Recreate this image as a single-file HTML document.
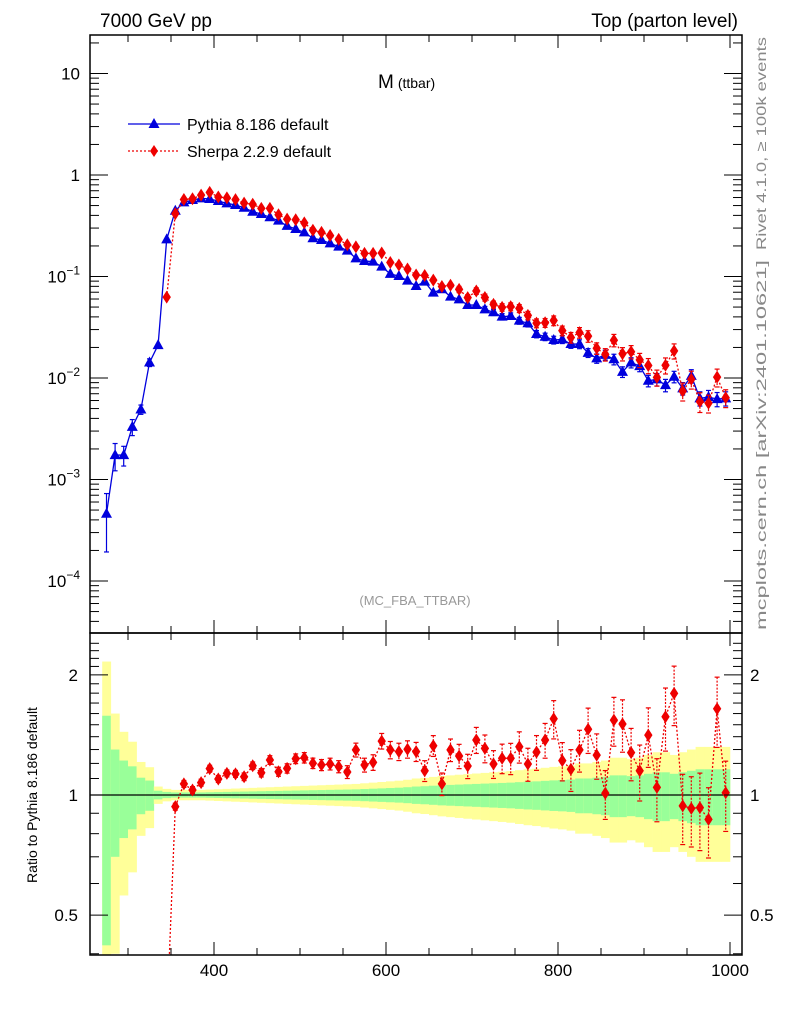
<!DOCTYPE html>
<html><head><meta charset="utf-8">
<style>
html,body{margin:0;padding:0;background:#fff;}
svg{display:block;font-family:"Liberation Sans",Arial,sans-serif;}
</style></head>
<body>
<svg id="chart" width="786" height="1024" viewBox="0 0 786 1024" xmlns="http://www.w3.org/2000/svg">
  <defs>
    <clipPath id="clipMain"><rect x="90" y="35" width="652" height="598"/></clipPath>
    <clipPath id="clipRatio"><rect x="90" y="633" width="652" height="322"/></clipPath>
  </defs>
  <text x="100" y="27" font-size="19">7000 GeV pp</text>
  <text x="738" y="27" font-size="19" text-anchor="end">Top (parton level)</text>
  <text x="378" y="88" font-size="19">M<tspan font-size="14" dx="4">(ttbar)</tspan></text>
  <text x="415" y="605" font-size="13" fill="#999" text-anchor="middle">(MC_FBA_TTBAR)</text>
  <text transform="translate(766,250) rotate(-90)" font-size="14" fill="#888" textLength="213" lengthAdjust="spacingAndGlyphs">Rivet 4.1.0, ≥ 100k events</text>
  <text transform="translate(766,630) rotate(-90)" font-size="14" fill="#888" textLength="370" lengthAdjust="spacingAndGlyphs">mcplots.cern.ch [arXiv:2401.10621]</text>
  <text transform="translate(37,795) rotate(-90)" font-size="14" text-anchor="middle">Ratio to Pythia 8.186 default</text>
  <g id="gRatioBand" clip-path="url(#clipRatio)"></g>
  <g id="gMain" clip-path="url(#clipMain)"></g>
  <g id="gRatio" clip-path="url(#clipRatio)"></g>
  <g id="gAxes"></g>
  <g>
    <g>
      <line x1="128" y1="124" x2="180" y2="124" stroke="#0000dd" stroke-width="1.3"/>
      <polygon points="154,118 159.5,128 148.5,128" fill="#0000dd"/>
      <text x="187" y="130" font-size="16">Pythia 8.186 default</text>
    </g>
    <g>
      <line x1="128" y1="151" x2="180" y2="151" stroke="#ee0000" stroke-width="1.3" stroke-dasharray="2,2"/>
      <polygon points="154,145 158,151 154,157 150,151" fill="#ee0000"/>
      <text x="187" y="157" font-size="16">Sherpa 2.2.9 default</text>
    </g>
  </g>
</svg>
<script>
const binCenters = [275,285,295,305,315,325,335,345,355,365,375,385,395,405,415,425,435,445,455,465,475,485,495,505,515,525,535,545,555,565,575,585,595,605,615,625,635,645,655,665,675,685,695,705,715,725,735,745,755,765,775,785,795,805,815,825,835,845,855,865,875,885,895,905,915,925,935,945,955,965,975,985,995];
const pythiaValues = [4.6e-4,1.74e-3,1.74e-3,3.3e-3,4.9e-3,0.0142,0.0211,0.232,0.445,0.538,0.567,0.589,0.580,0.554,0.526,0.506,0.476,0.435,0.413,0.383,0.355,0.315,0.294,0.272,0.238,0.229,0.212,0.197,0.180,0.151,0.142,0.140,0.125,0.106,0.101,0.091,0.0806,0.0889,0.0693,0.0748,0.0633,0.0596,0.0524,0.0524,0.0475,0.0444,0.0402,0.0408,0.0367,0.0346,0.0271,0.0255,0.0237,0.0240,0.0216,0.0216,0.0177,0.0156,0.0169,0.0153,0.0115,0.0142,0.0131,0.0094,0.0097,0.0085,0.0103,0.0079,0.0105,0.0063,0.0065,0.0062,0.0063];
const pythiaRelErr = [0.58,0.30,0.22,0.18,0.105,0.087,0.025,0.018,0.015,0.015,0.015,0.015,0.016,0.017,0.018,0.019,0.020,0.021,0.022,0.023,0.024,0.025,0.026,0.027,0.028,0.029,0.030,0.031,0.032,0.033,0.035,0.037,0.039,0.041,0.043,0.046,0.05,0.052,0.055,0.058,0.06,0.062,0.064,0.066,0.068,0.07,0.072,0.074,0.077,0.08,0.082,0.085,0.088,0.09,0.093,0.1,0.1,0.105,0.11,0.12,0.12,0.115,0.12,0.13,0.14,0.14,0.13,0.14,0.15,0.16,0.16,0.16,0.16];
const sherpaRatio = [null,null,null,null,null,null,null,0.27,0.935,1.066,1.029,1.074,1.164,1.097,1.133,1.13,1.111,1.184,1.137,1.224,1.144,1.166,1.233,1.240,1.201,1.189,1.196,1.178,1.142,1.297,1.189,1.207,1.365,1.297,1.284,1.302,1.284,1.150,1.329,1.066,1.297,1.252,1.182,1.374,1.309,1.196,1.236,1.236,1.321,1.196,1.281,1.374,1.553,1.219,1.160,1.297,1.461,1.259,1.010,1.541,1.506,1.277,1.150,1.413,1.045,1.571,1.798,0.939,0.926,0.93,0.869,1.645,1.013];
const sherpaRelErr = [null,null,null,null,null,null,null,0.05,0.02,0.02,0.02,0.02,0.02,0.02,0.02,0.02,0.022,0.022,0.024,0.025,0.026,0.027,0.028,0.03,0.03,0.032,0.034,0.035,0.037,0.04,0.04,0.045,0.045,0.05,0.05,0.05,0.055,0.06,0.06,0.065,0.065,0.07,0.07,0.075,0.08,0.08,0.085,0.09,0.09,0.095,0.1,0.1,0.11,0.11,0.12,0.12,0.13,0.13,0.14,0.14,0.15,0.15,0.16,0.17,0.18,0.18,0.17,0.2,0.2,0.22,0.2,0.2,0.2];
const xTickLabels = [400,600,800,1000];
const mainYTickExps = [1,0,-1,-2,-3,-4];
const ratioTickLabels = [2,1,0.5];

const NS = "http://www.w3.org/2000/svg";
const X = v => 214 + (v - 400) * 0.86;
const Ym = v => 175 - 101.5 * Math.log10(v);
const Yr = r => 795 - 399 * Math.log10(r);
function mk(tag, attrs, parent) {
  const e = document.createElementNS(NS, tag);
  for (const k in attrs) e.setAttribute(k, attrs[k]);
  parent.appendChild(e);
  return e;
}
const gMain = document.getElementById('gMain');
const gRatio = document.getElementById('gRatio');
const gBand = document.getElementById('gRatioBand');
const gAxes = document.getElementById('gAxes');
const BLUE = '#0000dd', RED = '#ee0000';

function tri(g, cx, cy) {
  const p = mk('polygon', {points: `${cx},${cy-6} ${cx+5.5},${cy+4} ${cx-5.5},${cy+4}`, fill: BLUE}, g);
  
  
}
function dia(g, cx, cy, name) {
  const p = mk('polygon', {points: `${cx},${cy-6.5} ${cx+4.2},${cy} ${cx},${cy+6.5} ${cx-4.2},${cy}`, fill: RED}, g);
  
  
}
function errbar(g, x, y1, y2, col, dash) {
  const a = {x1: x, y1: y1, x2: x, y2: y2, stroke: col, 'stroke-width': 1.2};
  if (dash) a['stroke-dasharray'] = '2,1.5';
  mk('line', a, g);
  if (Math.abs(y2 - y1) > 6) {
    mk('line', {x1: x-2.5, y1: y1, x2: x+2.5, y2: y1, stroke: col, 'stroke-width': 1.2}, g);
    mk('line', {x1: x-2.5, y1: y2, x2: x+2.5, y2: y2, stroke: col, 'stroke-width': 1.2}, g);
  }
}

binCenters.forEach((c, i) => {
  const e = pythiaRelErr[i];
  const x0 = X(c - 5), w = X(c + 5) - x0;
  const yTop = Yr(1 + 2*e), yBot = (1 - 2*e) > 0.01 ? Yr(1 - 2*e) : 1000;
  const r1 = mk('rect', {x: x0, y: yTop, width: w + 0.3, height: yBot - yTop, fill: '#ffff99'}, gBand);
  
  
  const gTop = Yr(1 + e), gBot = (1 - e) > 0.01 ? Yr(1 - e) : 1000;
  const r2 = mk('rect', {x: x0, y: gTop, width: w + 0.3, height: gBot - gTop, fill: '#99ff99'}, gBand);
  
  
});
const one = mk('line', {x1: 90, y1: Yr(1), x2: 742, y2: Yr(1), stroke: '#000', 'stroke-width': 1.3}, gRatio);



let pts = binCenters.map((c, i) => `${X(c)},${Ym(pythiaValues[i])}`).join(' ');
const pl = mk('polyline', {points: pts, fill: 'none', stroke: BLUE, 'stroke-width': 1.3}, gMain);


binCenters.forEach((c, i) => {
  const v = pythiaValues[i], e = pythiaRelErr[i];
  errbar(gMain, X(c), Ym(v*(1+e)), Ym(v*Math.max(1-e, 0.01)), BLUE, false);
});
binCenters.forEach((c, i) => tri(gMain, X(c), Ym(pythiaValues[i])));

const sIdx = binCenters.map((c, i) => i).filter(i => sherpaRatio[i] !== null);
pts = sIdx.map(i => `${X(binCenters[i])},${Ym(pythiaValues[i]*sherpaRatio[i])}`).join(' ');
const sl = mk('polyline', {points: pts, fill: 'none', stroke: RED, 'stroke-width': 1.3, 'stroke-dasharray': '2,2'}, gMain);


sIdx.forEach(i => {
  const v = pythiaValues[i]*sherpaRatio[i], e = sherpaRelErr[i];
  errbar(gMain, X(binCenters[i]), Ym(v*(1+e)), Ym(v*(1-e)), RED, true);
  dia(gMain, X(binCenters[i]), Ym(v), 'sherpa-point');
});

pts = sIdx.map(i => `${X(binCenters[i])},${Yr(sherpaRatio[i])}`).join(' ');
const rl = mk('polyline', {points: pts, fill: 'none', stroke: RED, 'stroke-width': 1.3, 'stroke-dasharray': '2,2'}, gRatio);


sIdx.forEach(i => {
  const r = sherpaRatio[i], e = sherpaRelErr[i]*r;
  errbar(gRatio, X(binCenters[i]), Yr(r + e), Yr(r - e), RED, true);
  dia(gRatio, X(binCenters[i]), Yr(r), 'sherpa-ratio-point');
});

const f1 = mk('rect', {x: 90, y: 35, width: 652, height: 598, fill: 'none', stroke: '#000', 'stroke-width': 1.5}, gAxes);


const f2 = mk('rect', {x: 90, y: 633, width: 652, height: 322, fill: 'none', stroke: '#000', 'stroke-width': 1.5}, gAxes);



for (let v = 300; v <= 1000; v += 50) {
  const x = X(v), major = (v % 200 === 0);
  const L = major ? 13 : 7;
  [[633, -1], [955, -1], [35, 1], [633, 1]].forEach(([y, d]) => {
    mk('line', {x1: x, y1: y, x2: x, y2: y + d*L, stroke: '#000', 'stroke-width': 1}, gAxes);
  });
}
xTickLabels.forEach(v => {
  const t = mk('text', {x: X(v), y: 976, 'font-size': 17, 'text-anchor': 'middle'}, gAxes);
  t.textContent = v;
  
  
});

for (let ex = -5; ex <= 1; ex++) {
  for (let m = 1; m <= 9; m++) {
    const y = Ym(m * Math.pow(10, ex));
    if (y < 35 || y > 633) continue;
    const L = m === 1 ? 18 : 9;
    mk('line', {x1: 90, y1: y, x2: 90 + L, y2: y, stroke: '#000', 'stroke-width': 1}, gAxes);
    mk('line', {x1: 742, y1: y, x2: 742 - L, y2: y, stroke: '#000', 'stroke-width': 1}, gAxes);
  }
}
mainYTickExps.forEach(ex => {
  const y = Ym(Math.pow(10, ex)) + 6;
  const t = mk('text', {x: 80, y: y, 'font-size': 17, 'text-anchor': 'end'}, gAxes);
  
  
  if (ex === 1) t.textContent = '10';
  else if (ex === 0) t.textContent = '1';
  else {
    t.textContent = '10';
    const s = mk('tspan', {dy: -8, 'font-size': 12}, t);
    s.textContent = '\u2212' + (-ex);
  }
});

for (let r = 0.4; r <= 2.5; r += 0.1) {
  const rr = Math.round(r*10)/10;
  const y = Yr(rr);
  if (y < 633 || y > 955) continue;
  const major = (rr === 0.5 || rr === 1 || rr === 2);
  const L = major ? 18 : 9;
  mk('line', {x1: 90, y1: y, x2: 90 + L, y2: y, stroke: '#000', 'stroke-width': 1}, gAxes);
  mk('line', {x1: 742, y1: y, x2: 742 - L, y2: y, stroke: '#000', 'stroke-width': 1}, gAxes);
}
ratioTickLabels.forEach(r => {
  const y = Yr(r) + 6;
  const t1 = mk('text', {x: 78, y: y, 'font-size': 17, 'text-anchor': 'end'}, gAxes);
  t1.textContent = r;
  
  
  const t2 = mk('text', {x: 750, y: y, 'font-size': 17}, gAxes);
  t2.textContent = r;
  
  
});
</script>
</body></html>
